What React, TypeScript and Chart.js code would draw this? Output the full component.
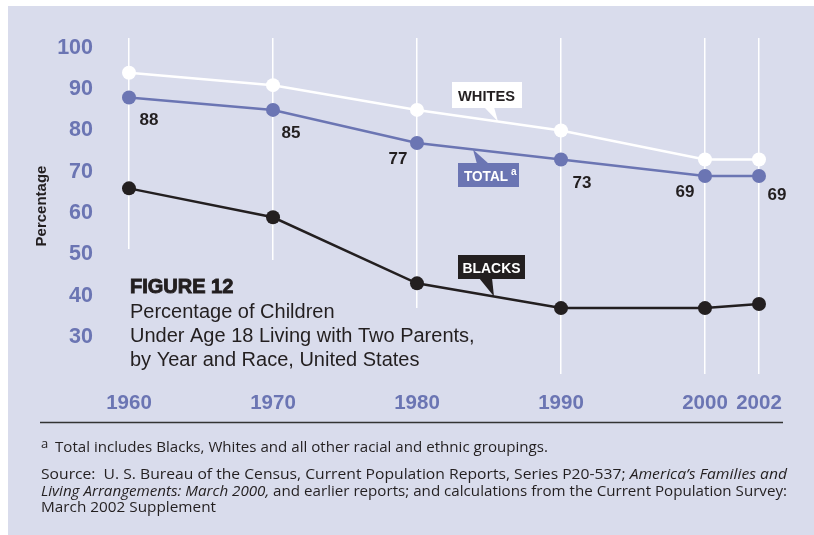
import React, { useEffect, useRef } from 'react';
import { Chart, registerables } from 'chart.js';

Chart.register(...registerables);

// ---- data ----
const years = [1960, 1970, 1980, 1990, 2000, 2002];
const yearLabels = ['1960', '1970', '1980', '1990', '2000', '2002'];
const whitesPct = [94, 91, 85, 80, 73, 73];
const totalPct = [88, 85, 77, 73, 69, 69];
const blacksPct = [66, 59, 43, 37, 37, 38];
const yTickValues = [30, 40, 50, 60, 70, 80, 90, 100];

// ---- styling ----
const PANEL = '#d9dcec';
const BLUE = '#6b75b3';
const INK = '#231f20';
const SANS = '"Liberation Sans", Arial, sans-serif';
const BODY = '"Open Sans", "Liberation Sans", sans-serif';

// Decades share one spacing; the final 2000–2002 step is drawn wider than its length.
const yearPos = (year: number) =>
  year <= 2000 ? (year - 1960) / 10 : 4 + (year - 2000) * 0.1875;

// where each Total value label sits relative to its point
const totalLabelOffsets: [number, number][] = [
  [20, 23], [18, 23], [-19, 16], [21, 24], [-20, 16], [18, 19],
];

function lineYAt(chart: any, dsIndex: number, px: number): number {
  const pts = chart.getDatasetMeta(dsIndex).data;
  for (let i = 0; i < pts.length - 1; i++) {
    const a = pts[i], b = pts[i + 1];
    if (px >= a.x && px <= b.x) {
      const t = (px - a.x) / (b.x - a.x);
      return a.y + t * (b.y - a.y);
    }
  }
  return pts[pts.length - 1].y;
}

// draws a run of differently styled text pieces, squeezed or stretched to a set width
function fitText(ctx: CanvasRenderingContext2D, parts: { text: string; font: string }[], x: number, y: number, width?: number) {
  let natural = 0;
  for (const p of parts) { ctx.font = p.font; natural += ctx.measureText(p.text).width; }
  const f = width ? width / natural : 1;
  ctx.save();
  ctx.translate(x, y);
  ctx.scale(f, 1);
  let cx = 0;
  for (const p of parts) { ctx.font = p.font; ctx.fillText(p.text, cx, 0); cx += ctx.measureText(p.text).width; }
  ctx.restore();
}

function pointer(ctx: CanvasRenderingContext2D, pts: [number, number][], color: string) {
  ctx.beginPath();
  ctx.moveTo(pts[0][0], pts[0][1]);
  for (let i = 1; i < pts.length; i++) ctx.lineTo(pts[i][0], pts[i][1]);
  ctx.closePath();
  ctx.fillStyle = color;
  ctx.fill();
}

const decor = {
  id: 'decor',
  beforeDraw(chart: any) {
    const ctx = chart.ctx;
    ctx.save();
    ctx.fillStyle = '#ffffff';
    ctx.fillRect(0, 0, chart.width, chart.height);
    ctx.fillStyle = PANEL;
    ctx.fillRect(8, 6, chart.width - 8, chart.height - 6);
    ctx.restore();
  },
  beforeDatasetsDraw(chart: any) {
    // clear the grid behind the figure caption
    const ctx = chart.ctx;
    ctx.save();
    ctx.fillStyle = PANEL;
    ctx.fillRect(105, 249, 95, 130);
    ctx.fillRect(200, 260, 160, 120);
    ctx.fillRect(360, 308, 145, 70);
    ctx.restore();
  },
  afterDatasetsDraw(chart: any) {
    const ctx = chart.ctx;
    ctx.save();

    // Total value labels
    const totalMeta = chart.getDatasetMeta(1).data;
    ctx.fillStyle = INK;
    ctx.font = `bold 17px ${SANS}`;
    ctx.textAlign = 'center';
    ctx.textBaseline = 'middle';
    totalMeta.forEach((pt: any, i: number) => {
      const [dx, dy] = totalLabelOffsets[i];
      ctx.fillText(String(totalPct[i]), pt.x + dx, pt.y + dy);
    });

    ctx.textAlign = 'left';
    ctx.textBaseline = 'alphabetic';
    const tag = `bold 15px ${SANS}`;

    // WHITES callout
    pointer(ctx, [[484, 107], [494, 107], [498, lineYAt(chart, 0, 498)]], '#ffffff');
    ctx.fillStyle = '#ffffff';
    ctx.fillRect(452, 82, 70, 26);
    ctx.fillStyle = INK;
    fitText(ctx, [{ text: 'WHITES', font: tag }], 458, 101, 57);

    // TOTAL callout
    pointer(ctx, [[473, lineYAt(chart, 1, 473)], [477, 164], [489, 164]], BLUE);
    ctx.fillStyle = BLUE;
    ctx.fillRect(458, 163, 61, 24);
    ctx.fillStyle = '#ffffff';
    fitText(ctx, [{ text: 'TOTAL', font: tag }], 464, 181, 44);
    ctx.font = `bold 10px ${SANS}`;
    ctx.fillText('a', 511, 175);

    // BLACKS callout
    pointer(ctx, [[479, 278], [492, 278], [494, lineYAt(chart, 2, 494)]], INK);
    ctx.fillStyle = INK;
    ctx.fillRect(458, 255, 67, 24);
    ctx.fillStyle = '#ffffff';
    fitText(ctx, [{ text: 'BLACKS', font: tag }], 462.5, 273, 58);

    // figure caption
    ctx.fillStyle = INK;
    ctx.strokeStyle = INK;
    ctx.lineWidth = 0.9;
    ctx.font = `bold 20px ${SANS}`;
    ctx.fillText('FIGURE 12', 130, 293);
    ctx.strokeText('FIGURE 12', 130, 293);
    ctx.font = `20px ${SANS}`;
    ctx.fillText('Percentage of Children', 130, 318);
    ctx.fillText('Under Age 18 Living with Two Parents,', 130, 342);
    ctx.fillText('by Year and Race, United States', 130, 366);
    ctx.restore();
  },
  afterDraw(chart: any) {
    const ctx = chart.ctx;
    ctx.save();
    ctx.strokeStyle = '#333333';
    ctx.lineWidth = 1.5;
    ctx.beginPath();
    ctx.moveTo(40, 422.5);
    ctx.lineTo(783, 422.5);
    ctx.stroke();

    ctx.fillStyle = INK;
    ctx.textAlign = 'left';
    ctx.textBaseline = 'alphabetic';
    const reg = `15px ${BODY}`;
    const ital = `italic 15px ${BODY}`;
    ctx.font = `13px ${BODY}`;
    ctx.fillText('a', 41, 447.5);
    fitText(ctx, [{ text: 'Total includes Blacks, Whites and all other racial and ethnic groupings.', font: reg }], 55, 452, 493);
    fitText(ctx, [
      { text: 'Source:  U. S. Bureau of the Census, Current Population Reports, Series P20-537; ', font: reg },
      { text: 'America\u2019s Families and', font: ital },
    ], 41, 479, 746);
    fitText(ctx, [
      { text: 'Living Arrangements: March 2000,', font: ital },
      { text: ' and earlier reports; and calculations from the Current Population Survey:', font: reg },
    ], 41, 495.5, 746);
    fitText(ctx, [{ text: 'March 2002 Supplement', font: reg }], 41, 512, 175);
    ctx.restore();
  },
};

export default function App() {
  const ref = useRef<HTMLCanvasElement | null>(null);

  useEffect(() => {
    if (!ref.current) return;
    const series = (vals: number[]) => vals.map((v, i) => ({ x: yearPos(years[i]), y: v }));
    const chart = new Chart(ref.current, {
      type: 'line',
      data: {
        datasets: [
          {
            label: 'WHITES',
            data: series(whitesPct),
            borderColor: '#ffffff',
            backgroundColor: '#ffffff',
            borderWidth: 2.5,
            pointRadius: 7,
            pointBorderWidth: 0,
            pointBackgroundColor: '#ffffff',
          },
          {
            label: 'TOTAL',
            data: series(totalPct),
            borderColor: BLUE,
            backgroundColor: BLUE,
            borderWidth: 2.5,
            pointRadius: 7,
            pointBorderWidth: 0,
            pointBackgroundColor: BLUE,
          },
          {
            label: 'BLACKS',
            data: series(blacksPct),
            borderColor: INK,
            backgroundColor: INK,
            borderWidth: 2.5,
            pointRadius: 7,
            pointBorderWidth: 0,
            pointBackgroundColor: INK,
          },
        ],
      },
      options: {
        animation: false,
        responsive: false,
        devicePixelRatio: 1,
        layout: { padding: { top: 38, left: 0, right: 24, bottom: 111 } },
        plugins: { legend: { display: false }, tooltip: { enabled: false } },
        scales: {
          x: {
            type: 'linear',
            min: -0.2014,
            max: 4.5903,
            afterBuildTicks: (scale: any) => {
              scale.ticks = years.map((y) => ({ value: yearPos(y) }));
            },
            afterFit: (scale: any) => { scale.height = 50; },
            ticks: {
              padding: 17,
              color: BLUE,
              font: { family: SANS, size: 20.5, weight: 'bold' },
              callback: (value: any) => {
                const i = years.findIndex((y) => Math.abs(yearPos(y) - Number(value)) < 1e-6);
                return i >= 0 ? yearLabels[i] : '';
              },
            },
            grid: { color: '#ffffff', lineWidth: 1.5, drawTicks: false },
            border: { display: false },
          },
          y: {
            type: 'linear',
            min: 21.04,
            max: 102.42,
            afterBuildTicks: (scale: any) => {
              scale.ticks = yTickValues.map((v) => ({ value: v }));
            },
            afterFit: (scale: any) => { scale.width = 100; },
            ticks: {
              padding: 7,
              color: BLUE,
              font: { family: SANS, size: 21.5, weight: 'bold' },
            },
            grid: { display: false, drawTicks: false },
            border: { display: false },
            title: {
              display: true,
              text: 'Percentage',
              color: INK,
              font: { family: SANS, size: 15, weight: 'bold' },
              padding: { top: 33, bottom: 0 },
            },
          },
        },
      },
      plugins: [decor],
    } as any);
    return () => chart.destroy();
  }, []);

  return (
    <div style={{ position: 'fixed', left: 0, top: 0, width: 814, height: 535 }}>
      <canvas ref={ref} width={814} height={535} style={{ display: 'block' }} />
    </div>
  );
}
